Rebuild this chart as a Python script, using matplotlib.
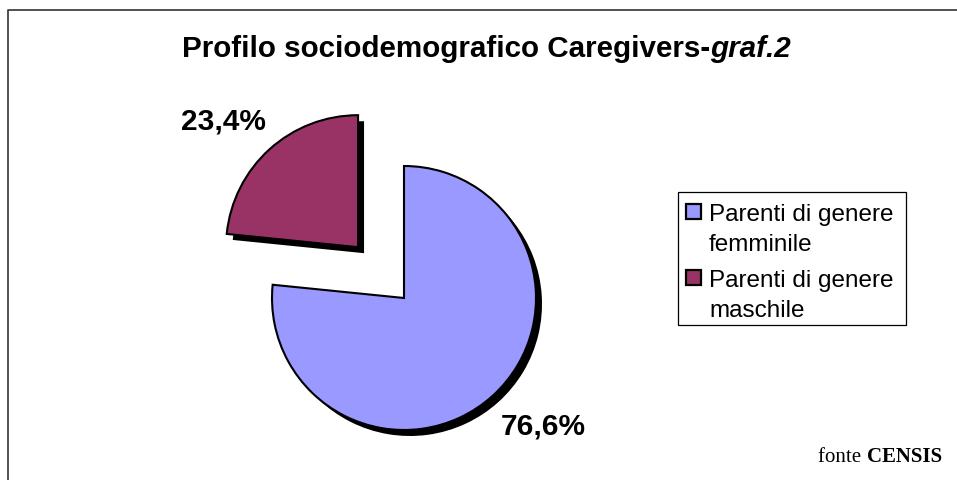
import matplotlib.pyplot as plt
import matplotlib.patches as mpatches

categories = ['Parenti di genere\nfemminile', 'Parenti di genere\nmaschile']
values = [76.6, 23.4]
colors = ['#9999FF', '#993366']
explode = [0, 68.5]

W, H = 957, 481
fig = plt.figure(figsize=(W / 100, H / 100), dpi=100)
ax = fig.add_axes([0, 0, 1, 1])

cx, cy, r = 404, 182, 132
sh = 6

# ombra nera
ax.pie(values, colors=['black'] * len(values), startangle=90, counterclock=False,
       radius=r, center=(cx + sh, cy - sh), explode=explode,
       wedgeprops=dict(linewidth=0), frame=True)
# torta
wedges, _ = ax.pie(values, colors=colors, startangle=90, counterclock=False,
                   radius=r, center=(cx, cy), explode=explode,
                   wedgeprops=dict(edgecolor='black', linewidth=1.5), frame=True)

ax.set_xlim(0, W)
ax.set_ylim(0, H)
ax.set_aspect('equal')
ax.axis('off')

# etichette percentuali
label_pos = [(543, 54), (223.5, 359)]
for v, (lx, ly) in zip(values, label_pos):
    ax.text(lx, ly, f'{v:.1f}%'.replace('.', ','), ha='center', va='center',
            fontsize=21.5, fontweight='bold', family='Liberation Sans')

# titolo (parte in corsivo)
fig.canvas.draw()
rend = fig.canvas.get_renderer()
t1 = ax.text(0, 424, 'Profilo sociodemografico Caregivers-', ha='left', va='baseline',
             fontsize=21.3, fontweight='bold', family='Liberation Sans')
t2 = ax.text(0, 424, 'graf.2', ha='left', va='baseline', fontsize=21.3,
             fontweight='bold', style='italic', family='Liberation Sans')
w1 = t1.get_window_extent(rend).width
w2 = t2.get_window_extent(rend).width
x0 = 486 - (w1 + w2) / 2
t1.set_x(x0)
t2.set_x(x0 + w1)

# legenda manuale
ax.add_patch(mpatches.Rectangle((678, 155), 228, 133, facecolor='white',
                                edgecolor='black', linewidth=0.9))
for i, (lab, col) in enumerate(zip(categories, colors)):
    base = 260.3 - i * 66.6
    ax.add_patch(mpatches.Rectangle((686, base + 1), 15, 15, facecolor=col,
                                    edgecolor='black', linewidth=1.6))
    for j, line in enumerate(lab.split('\n')):
        ax.text(709, base - j * 30, line, ha='left', va='baseline',
                fontsize=17.5, family='Liberation Sans')

# fonte
c = ax.text(942, 19.3, 'CENSIS', ha='right', va='baseline', fontsize=15,
            fontweight='bold', family='Liberation Serif')
fig.canvas.draw()
cw = c.get_window_extent(rend).x0
ax.text(cw, 19.3, 'fonte ', ha='right', va='baseline', fontsize=15,
        family='Liberation Serif')

# cornice
ax.plot([8, 8, W], [0, 470, 470], color='#333333', linewidth=1.2)

fig.savefig('out.png', dpi=100)
